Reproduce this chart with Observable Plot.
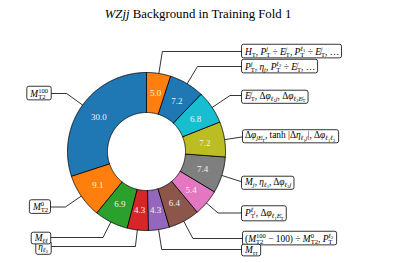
<!DOCTYPE html>
<html>
<head>
<meta charset="utf-8">
<script src="https://cdn.jsdelivr.net/npm/d3@7"></script>
<script src="https://cdn.jsdelivr.net/npm/@observablehq/plot@0.6"></script>
<style>
  html, body { margin: 0; padding: 0; background: white; }
  #chart svg { display: block; }
  #chart svg text, #chart svg tspan { font-family: "Liberation Serif", "DejaVu Serif", serif; }
</style>
</head>
<body>
<div id="chart"></div>
<div id="err" style="font:10px monospace;color:red"></div>
<script>
// ---- data (clockwise from 12 o'clock) ----
const title = "WZjj `Background in Training Fold 1`";
const values = [5.0, 7.2, 6.8, 7.2, 7.4, 5.4, 6.4, 4.3, 4.3, 6.9, 9.1, 30.0];
const colors = ["#ff7f0e", "#1f77b4", "#17becf", "#bcbd22", "#7f7f7f", "#e377c2",
                "#8c564b", "#9467bd", "#d62728", "#2ca02c", "#ff7f0e", "#1f77b4"];
const features = [
  "H_{`T`}, P_{`T`}^{j} ÷ E\u0338_{`T`}, P_{`T`}^{ℓ_{1}} ÷ E\u0338_{`T`}, …",
  "P_{`T`}^{j}, η_{j}, P_{`T`}^{ℓ_{2}} ÷ E\u0338_{`T`}, …",
  "E\u0338_{`T`}, Δφ_{ℓ_{1}j}, Δφ_{ℓ_{2}E\u0338_{`T`}}",
  "Δφ_{jE\u0338_{`T`}}, `tanh` |Δη_{ℓ_{1}j}|, Δφ_{ℓ_{1}ℓ_{2}}",
  "M_{j}, η_{ℓ_{1}}, Δφ_{ℓ_{2}j}",
  "P_{`T`}^{ℓ_{1}}, Δφ_{ℓ_{1}E\u0338_{`T`}}",
  "(M_{`T2`}^{100} − 100) ÷ M_{`T2`}^{0}, P_{`T`}^{ℓ_{2}}",
  "M_{ττ}",
  "η_{ℓ_{2}}",
  "M_{ℓℓ}",
  "M_{`T2`}^{0}",
  "M_{`T2`}^{100}"
];

// ---- layout ----
const W = 395, H = 263;
const cx = 146, cy = 151, R = 79, r0 = 39, rLabel = 59;
const labelY = [51, 66, 95, 134.5, 181, 212.5, 238, 249, 246, 237, 206.5, 93];
const boxRightX = 242, boxLeftX = 50, pad = 2.5;
const annFont = 9.4;
const titleFont = 12.8;

// ---- derived geometry ----
const arcs = d3.pie().sort(null).startAngle(0).endAngle(2 * Math.PI)(values);
const pt = (a, rad) => ({x: cx + rad * Math.sin(a), y: cy - rad * Math.cos(a)});

const slicePts = [];
arcs.forEach((a, i) => {
  const n = Math.max(2, Math.ceil((a.endAngle - a.startAngle) / 0.01));
  for (let k = 0; k <= n; k++) {
    const t = a.startAngle + (a.endAngle - a.startAngle) * k / n;
    slicePts.push({slice: i, color: colors[i], ...pt(t, R)});
  }
  for (let k = n; k >= 0; k--) {
    const t = a.startAngle + (a.endAngle - a.startAngle) * k / n;
    slicePts.push({slice: i, color: colors[i], ...pt(t, r0)});
  }
});

const sliceLabels = arcs.map((a, i) => {
  const m = (a.startAngle + a.endAngle) / 2;
  return {text: d3.format(".1f")(values[i]), ...pt(m, rLabel)};
});

const leaderPts = [];
const annotations = [];
arcs.forEach((a, i) => {
  const m = (a.startAngle + a.endAngle) / 2;
  const right = Math.sin(m) > 0;
  const bx = right ? boxRightX : boxLeftX;
  const ly = labelY[i];
  const e = pt(m, R);
  const s = (cy - ly) / Math.cos(m);
  const corner = {x: cx + s * Math.sin(m), y: ly};
  leaderPts.push({id: i, ...e});
  const beyond = right ? corner.x > bx : corner.x < bx;
  if (beyond || s < R) {
    const s2 = (bx - cx) / Math.sin(m);
    leaderPts.push({id: i, ...pt(m, s2)});
  } else {
    leaderPts.push({id: i, ...corner});
    leaderPts.push({id: i, x: bx, y: ly});
  }
  annotations.push({text: features[i], x: right ? bx + pad : bx - pad, y: ly, anchor: right ? "start" : "end"});
});

const svg = Plot.plot({
  width: W, height: H,
  margin: 0,
  x: {domain: [0, W], range: [0, W], axis: null},
  y: {domain: [0, H], range: [0, H], axis: null},
  color: {type: "identity"},
  style: {background: "white"},
  marks: [
    Plot.line(leaderPts, {x: "x", y: "y", z: "id", stroke: "#000", strokeWidth: 0.8}),
    Plot.line(slicePts, {x: "x", y: "y", z: "slice", fill: "color", stroke: "#000", strokeWidth: 0.8, curve: "linear-closed"}),
    Plot.text(sliceLabels, {x: "x", y: "y", text: "text", fill: "#f2f2f2", fontSize: 9}),
    Plot.text(annotations.filter(d => d.anchor === "start"), {x: "x", y: "y", text: "text", textAnchor: "start", fill: "#000", fontSize: annFont}),
    Plot.text(annotations.filter(d => d.anchor === "end"), {x: "x", y: "y", text: "text", textAnchor: "end", fill: "#000", fontSize: annFont}),
    Plot.text([title], {frameAnchor: "top", lineAnchor: "top", dy: 8.5, fill: "#000", fontSize: titleFont})
  ]
});
document.getElementById("chart").append(svg);

// ---- rich text (sub/superscripts, italics) ----
function readGroup(s, i) {
  if (s[i] !== "{") return {content: s[i], end: i + 1};
  let depth = 0, j = i;
  for (; j < s.length; j++) {
    if (s[j] === "{") depth++;
    else if (s[j] === "}") { depth--; if (depth === 0) break; }
  }
  return {content: s.slice(i + 1, j), end: j + 1};
}
function richify(el, src, base) {
  const runs = [], stacks = [];
  function pushText(t, size, shift, upright) {
    let cur = "", curIt = null;
    for (const ch of t) {
      if (/[\u0300-\u036f]/.test(ch)) { cur += ch; continue; }
      const it = !upright && /[A-Za-zα-ωℓ]/.test(ch);
      if (curIt !== null && it !== curIt) { runs.push({t: cur, size, shift, it: curIt}); cur = ""; }
      cur += ch; curIt = it;
    }
    if (cur) runs.push({t: cur, size, shift, it: curIt});
  }
  function parse(s, size, shift, upright) {
    let i = 0, buf = "";
    const flush = () => { if (buf) { pushText(buf, size, shift, upright); buf = ""; } };
    while (i < s.length) {
      const c = s[i];
      if (c === "`") {
        flush();
        let j = s.indexOf("`", i + 1);
        if (j < 0) j = s.length;
        pushText(s.slice(i + 1, j), size, shift, true);
        i = j + 1; continue;
      }
      if (c === "_" || c === "^") {
        flush();
        const g1 = readGroup(s, i + 1);
        const s1 = runs.length;
        parse(g1.content, size * 0.7, shift + (c === "_" ? 0.22 * size : -0.42 * size), upright);
        const e1 = runs.length;
        i = g1.end;
        const c2 = s[i];
        if ((c2 === "_" || c2 === "^") && c2 !== c) {
          const g2 = readGroup(s, i + 1);
          const s2 = runs.length;
          parse(g2.content, size * 0.7, shift + (c2 === "_" ? 0.22 * size : -0.42 * size), upright);
          stacks.push({a: [s1, e1], b: [s2, runs.length]});
          i = g2.end;
        }
        continue;
      }
      buf += c; i++;
    }
    flush();
  }
  parse(src, base, 0, false);
  while (el.firstChild) el.removeChild(el.firstChild);
  let curShift = 0;
  const spans = runs.map(rn => {
    const ts = document.createElementNS("http://www.w3.org/2000/svg", "tspan");
    ts.textContent = rn.t;
    ts.setAttribute("font-size", rn.size);
    ts.style.fontSize = rn.size + "px";
    if (rn.it) ts.style.fontStyle = "italic";
    const dy = rn.shift - curShift;
    if (dy) ts.setAttribute("dy", dy);
    curShift = rn.shift;
    el.appendChild(ts);
    return ts;
  });
  for (const st of stacks) {
    let la = 0, lb = 0;
    for (let k = st.a[0]; k < st.a[1]; k++) la += spans[k].getComputedTextLength();
    for (let k = st.b[0]; k < st.b[1]; k++) lb += spans[k].getComputedTextLength();
    spans[st.b[0]].setAttribute("dx", -la);
    if (la > lb && spans[st.b[1]]) spans[st.b[1]].setAttribute("dx", la - lb);
  }
}

try {
  const texts = Array.from(svg.querySelectorAll("text"));
  for (const t of texts) {
    const src = t.textContent;
    if (src === title) { richify(t, src, titleFont); continue; }
    if (!features.includes(src)) continue;
    richify(t, src, annFont);
    const b = t.getBBox();
    const rect = document.createElementNS("http://www.w3.org/2000/svg", "rect");
    rect.setAttribute("x", b.x - pad);
    rect.setAttribute("y", b.y - 0.3);
    rect.setAttribute("width", b.width + 2 * pad);
    rect.setAttribute("height", b.height + 0.6);
    rect.setAttribute("rx", 2);
    rect.setAttribute("fill", "white");
    rect.setAttribute("stroke", "#000");
    rect.setAttribute("stroke-width", 0.8);
    const tr = t.getAttribute("transform");
    if (tr) rect.setAttribute("transform", tr);
    t.parentNode.insertBefore(rect, t);
  }
} catch (e) {
  document.getElementById("err").textContent = String(e && e.stack || e);
}
</script>
</body>
</html>
